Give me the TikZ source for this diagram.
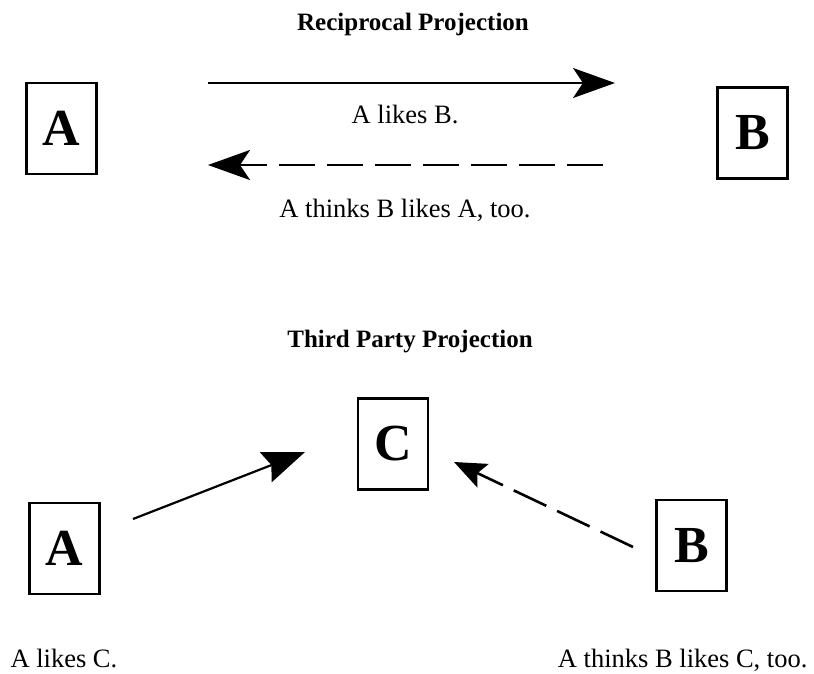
\documentclass[tikz,border=0pt]{standalone}
\usepackage{fontspec}
\setmainfont{Liberation Serif}
\usetikzlibrary{arrows.meta}

\begin{document}
\begin{tikzpicture}[x=1pt,y=-1pt,
    person/.style={draw=black, line width=2.6pt, inner sep=0pt,
      minimum width=70pt, minimum height=91pt,
      font=\fontsize{52}{60}\selectfont\bfseries},
    caption/.style={anchor=base, font=\fontsize{26.5}{30}\selectfont},
    heading/.style={anchor=base, font=\fontsize{25}{30}\selectfont\bfseries},
    likes/.style={line width=2.2pt, -{Stealth[length=42pt,width=30pt,inset=10pt]}},
    thinks/.style={likes, line width=2.6pt, dash pattern=on 36pt off 12pt}]

\useasboundingbox (0,0) rectangle (814,673);

% reciprocal projection
\node[heading] (t1) at (413,30) {Reciprocal Projection};
\node[person] (A1) at (61.5,128.5) {A};
\node[person] (B1) at (752.5,133) {B};

\coordinate (ab1) at (208,83);
\coordinate (ab2) at (615,83);
\coordinate (ba1) at (603,165);
\coordinate (ba2) at (208,165);

\draw[likes] (ab1) -- (ab2);
\node[caption] (l1) at (405,123) {A likes B.};
\draw[thinks] (ba1) -- (ba2);
\node[caption] (l2) at (405,217) {A thinks B likes A, too.};

% third party projection
\node[heading] (t2) at (410,347) {Third Party Projection};
\node[person] (C2) at (393,444) {C};
\node[person] (A2) at (64.5,548.5) {A};
\node[person] (B2) at (691.5,545.5) {B};

\coordinate (ac1) at (133,519);
\coordinate (ac2) at (305,452);
\coordinate (bc1) at (633,547);
\coordinate (bc2) at (454,462);

\draw[likes, -{Stealth[length=42pt,width=32pt,inset=6pt]}] (ac1) -- (ac2);
\draw[thinks, -{Stealth[length=32pt,width=26pt,inset=6pt]}] (bc1) -- (bc2);

\node[caption, anchor=base west] (l3) at (7,667) {A likes C.};
\node[caption, anchor=base east] (l4) at (811,667) {A thinks B likes C, too.};

\end{tikzpicture}
\end{document}
